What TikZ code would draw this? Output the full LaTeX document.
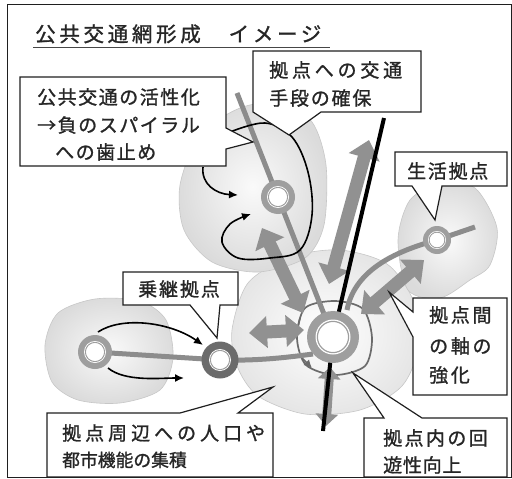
\documentclass[tikz,border=0pt]{standalone}
\usepackage{fontspec}
\newfontfamily\jp[FakeBold=1.2]{Noto Sans CJK JP}
\usetikzlibrary{arrows.meta}
\definecolor{linegray}{gray}{0.55}
\definecolor{arrgray}{gray}{0.57}
\definecolor{ringgray}{gray}{0.62}
\definecolor{transgray}{gray}{0.42}
\definecolor{zoneedge}{gray}{0.78}
\definecolor{boxline}{gray}{0.12}
\definecolor{circgray}{gray}{0.42}
\newcommand{\jt}[3]{\jp\fontsize{#1}{#1}\selectfont\addfontfeature{LetterSpace=#2}#3}
\tikzset{
  lbl/.style={anchor=base west, inner sep=0pt, text=black!85},
  zone/.style={draw=zoneedge, line width=0.6pt, inner color=gray!4, outer color=gray!28},
  bigzone/.style={draw=zoneedge, line width=0.6pt, inner color=white, outer color=gray!20},
  transit/.style={draw=linegray, line width=5pt},
  bigarrow/.style={draw=arrgray, line width=13pt, {Triangle[length=18pt,width=31pt]}-{Triangle[length=18pt,width=31pt]}},
  blackline/.style={draw=black, line width=4pt},
  flow/.style={draw=black, line width=1.6pt, -{Latex[length=9pt,width=8pt]}},
  ringline/.style={draw=circgray, line width=1.7pt},
  callout/.style={draw=boxline, fill=white, line width=1.2pt, line join=miter},
  station/.style={circle, inner sep=0pt},
}
\begin{document}
\begin{tikzpicture}[x=1pt,y=-1pt]
\useasboundingbox (0,0) rectangle (512,479);
\fill[white] (0,0) rectangle (512,479);

% zones
\path[bigzone] plot[smooth cycle] coordinates {(232,330) (248,283) (290,257) (340,250) (387,264) (413,300) (419,345) (402,386) (360,410) (305,414) (258,396) (237,366)};
\path[zone] plot[smooth cycle] coordinates {(45,345) (58,313) (95,299) (140,301) (166,320) (173,358) (160,390) (120,403) (78,400) (52,382)};
\path[zone] plot[smooth cycle] coordinates {(180,185) (200,135) (240,108) (280,103) (312,122) (326,165) (324,225) (305,258) (258,272) (212,262) (184,230)};
\path[zone] plot[smooth cycle] coordinates {(398,240) (410,200) (440,184) (475,188) (497,228) (490,265) (470,280) (440,298) (408,290)};

% circulation ring around the main hub
\draw[ringline] plot[smooth cycle] coordinates {(372,338) (363,309) (335,301) (305,308) (297,338) (306,365) (335,375) (365,366)};
\draw[ringline, -{Latex[length=8pt,width=8pt]}] (300,318) -- (296,335);
\draw[ringline, -{Latex[length=8pt,width=8pt]}] (300,356) -- (312,368);

% coordinates of the stations
\coordinate (pc) at (333,337);
\coordinate (pul) at (278,197);
\coordinate (pr) at (437,240);
\coordinate (ptr) at (220,360);
\coordinate (pl) at (95,352);
\coordinate (ltop) at (237,93);
\coordinate (rend) at (475,227);
\coordinate (bktop) at (384,118);
\coordinate (bkbot) at (323,431);
\coordinate (trend) at (313,354);
\coordinate (rcurveend) at (347,310);

% transit lines
\draw[transit] (ltop) -- (pc);
\draw[transit] (pl) -- (ptr);
\draw[transit] (ptr) .. controls (260,361) and (290,357) .. (trend);
\draw[transit] (rend) -- (pr) .. controls (400,250) and (355,268) .. (rcurveend);

% big double arrows
\coordinate (a1s) at (262,228); \coordinate (a1e) at (303,313);
\coordinate (a2s) at (249,333); \coordinate (a2e) at (304,330);
\coordinate (a3s) at (329,284); \coordinate (a3e) at (369,140);
\coordinate (a4s) at (361,314); \coordinate (a4e) at (424,260);
\coordinate (a5s) at (330,367); \coordinate (a5e) at (326,426);
\draw[bigarrow] (a1s) -- (a1e);
\draw[bigarrow] (a2s) -- (a2e);
\draw[bigarrow] (a3s) -- (a3e);
\draw[bigarrow] (a4s) -- (a4e);
\draw[draw=arrgray, line width=9pt, {Triangle[length=12pt,width=22pt]}-{Triangle[length=12pt,width=22pt]}] (a5s) -- (a5e);

% black line
\draw[blackline] (bktop) -- (pc) -- (bkbot);

% stations
\node[station, fill=ringgray, minimum size=52pt] (cen) at (pc) {};
\fill[white] (cen) circle (17.5pt);
\draw[ringgray, line width=1.2pt] (cen) circle (15.6pt);
\fill[white] (cen) circle (14.4pt);

\node[station, fill=ringgray, minimum size=34pt] (ul) at (pul) {};
\fill[white] (ul) circle (11pt);
\draw[ringgray, line width=1pt] (ul) circle (9.6pt);
\fill[white] (ul) circle (8.6pt);

\node[station, fill=ringgray, minimum size=28pt] (rt) at (pr) {};
\fill[white] (rt) circle (9pt);
\draw[ringgray, line width=0.9pt] (rt) circle (7.8pt);
\fill[white] (rt) circle (6.8pt);

\node[station, fill=transgray, minimum size=37pt] (tr) at (ptr) {};
\fill[white] (tr) circle (11pt);
\draw[ringgray, line width=1pt] (tr) circle (9.6pt);
\fill[white] (tr) circle (8.6pt);

\node[station, fill=ringgray, minimum size=34pt] (lf) at (pl) {};
\fill[white] (lf) circle (11pt);
\draw[ringgray, line width=1pt] (lf) circle (9.6pt);
\fill[white] (lf) circle (8.6pt);

% black flow arrows
\draw[flow] (203,167) .. controls (201,184) and (216,194) .. (238,195);
\draw[flow] plot[smooth, tension=0.6] coordinates {(230,132) (265,123) (292,137) (308,172) (312,215) (300,250) (270,258) (238,258) (222,242) (230,224) (251,214)};
\draw[flow] (98,332) .. controls (122,316) and (170,322) .. (203,345);
\draw[flow] (108,368) .. controls (125,382) and (160,378) .. (184,378);

% callouts
\draw[callout] (20,77) -- (226,77) -- (226,128) -- (253,142) -- (226,149) -- (226,166) -- (20,166) -- cycle;
\draw[callout] (253,51) -- (421,51) -- (421,112) -- (321,112) -- (289,135) -- (253,112) -- cycle;
\draw[callout] (395,152) -- (507,152) -- (507,186) -- (442,186) -- (435,220) -- (412,186) -- (395,186) -- cycle;
\draw[callout] (123,272) -- (238,272) -- (238,305) -- (220,305) -- (217,338) -- (190,305) -- (123,305) -- cycle;
\draw[callout] (47,413) -- (180,413) -- (273,387) -- (238,413) -- (273,413) -- (273,477) -- (47,477) -- cycle;
\draw[callout] (413,298) -- (507,298) -- (507,395) -- (413,395) -- (413,337) -- (389,292) -- (413,312) -- cycle;
\draw[callout] (364,418) -- (384,418) -- (353,373) -- (422,418) -- (507,418) -- (507,477) -- (364,477) -- cycle;

% texts
\node[lbl] (ttl) at (35,41.6) {\jt{20.5}{18}{公共交通網形成　イメージ}};
\draw[gray!55!black, line width=1.6pt] (33,47.5) -- (330,47.5);

\node[lbl] (c1a) at (37,104.2) {\jt{19}{8}{公共交通の活性化}};
\node[lbl] (c1b) at (37,132.2) {\jt{19}{8}{→負のスパイラル}};
\node[lbl] (c1c) at (55,159.2) {\jt{19}{8}{への歯止め}};

\node[lbl] (c2a) at (269,77.2) {\jt{19}{20}{拠点への交通}};
\node[lbl] (c2b) at (269,105.2) {\jt{19}{9.5}{手段の確保}};

\node[lbl] (c3) at (407,178.2) {\jt{19}{9}{生活拠点}};

\node[lbl] (c4) at (138,296.2) {\jt{19}{10}{乗継拠点}};

\node[lbl] (c5a) at (62,440.2) {\jt{19}{21}{拠点周辺への人口や}};
\node[lbl] (c5b) at (62,466.7) {\jt{17.8}{0}{都市機能の集積}};

\node[lbl] (c6a) at (429,322.2) {\jt{19}{14}{拠点間}};
\node[lbl] (c6b) at (429,353.2) {\jt{19}{14}{の軸の}};
\node[lbl] (c6c) at (429,382.2) {\jt{19}{14}{強化}};

\node[lbl] (c7a) at (383,445.2) {\jt{19}{12.6}{拠点内の回}};
\node[lbl] (c7b) at (383,472.2) {\jt{19}{4}{遊性向上}};

% frame
\draw[boxline, line width=1pt] (7,4) rectangle (511,477);
\end{tikzpicture}
\end{document}
